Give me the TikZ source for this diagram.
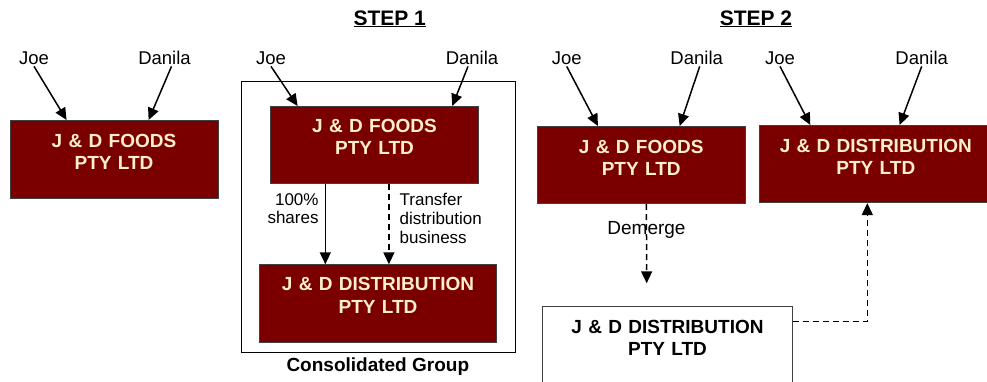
\documentclass[tikz,border=0pt]{standalone}
\usepackage{fontspec}
\setmainfont{Liberation Sans}
\usetikzlibrary{arrows.meta}
\definecolor{maroon}{RGB}{122,0,0}
\definecolor{cream}{RGB}{255,240,200}

\begin{document}
\begin{tikzpicture}[x=1pt, y=-1pt,
                corp/.style={draw=black!75, line width=0.8pt, fill=maroon, text=cream, align=center, inner sep=0pt,
                        font=\bfseries\fontsize{19}{22.5}\selectfont, text height=27pt, anchor=north},
                newco/.style={corp, fill=white, text=black},
                own/.style={font=\fontsize{18.5}{22}\selectfont, anchor=base, inner sep=2pt},
                note/.style={font=\fontsize{17}{18.8}\selectfont, inner sep=0pt},
                title/.style={font=\bfseries\fontsize{21}{25}\selectfont, anchor=base},
                link/.style={line width=1.5pt, ->, >={Triangle[length=12pt,width=11pt]}},
                plan/.style={link, dash pattern=on 6pt off 4pt}]
        \useasboundingbox (0,0) rectangle (987,381);
        \clip (0,0) rectangle (987,381);
        \node[title] (s1) at (389.7,25) {\underline{STEP 1}};
        \node[title] (s2) at (756,25) {\underline{STEP 2}};
        % before
        \node[corp, text width=208pt, text depth=51pt] (f0) at (114,120) {J \& D FOODS\\PTY LTD};
        \node[own] (j0) at (34,64) {Joe};
        \node[own] (d0) at (164.5,64) {Danila};
        \draw[link] (j0.south) -- ([xshift=57pt]f0.north west);
        \draw[link] ([xshift=7pt]d0.south) -- ([xshift=139pt]f0.north west);
        % step 1
        \node[draw, line width=0.8pt, minimum width=273.3pt, minimum height=271pt, inner sep=0pt] (grp) at (378.3,217.2) {};
        \node[corp, text width=207.6pt, text height=26pt, text depth=50.7pt] (f1) at (374.5,106) {J \& D FOODS\\PTY LTD};
        \node[corp, text width=237.4pt, text height=26pt, text depth=52pt] (t1) at (378,264.3) {J \& D DISTRIBUTION\\PTY LTD};
        \node[own] (j1) at (271,64) {Joe};
        \node[own] (d1) at (472,64) {Danila};
        \draw[link] (j1.south) -- ([xshift=27.3pt]f1.north west);
        \draw[link] ([xshift=-4pt]d1.south) -- ([xshift=182pt]f1.north west);
        \draw[link] ([xshift=55pt]f1.south west) -- node[note, anchor=north east, pos=0.11, xshift=-6pt, align=right] {100\%\\shares} ([xshift=66.4pt]t1.north west);
        \draw[plan] ([xshift=118.6pt]f1.south west) -- node[note, anchor=north west, pos=0.11, xshift=10pt, align=left] {Transfer\\distribution\\business} ([xshift=130pt]t1.north west);
        \node[note, anchor=base, font=\bfseries\fontsize{19}{22}\selectfont] (cg) at (377.8,371.7) {Consolidated Group};
        % step 2
        \node[corp, text width=207.7pt, text depth=50.3pt] (f2) at (641.2,126) {J \& D FOODS\\PTY LTD};
        \node[corp, text width=233pt, text depth=50.3pt] (t2) at (875.8,125) {J \& D DISTRIBUTION\\PTY LTD};
        \node[newco, text width=249.6pt, text depth=100pt] (n2) at (667.5,306) {J \& D DISTRIBUTION\\PTY LTD};
        \node[own] (j2) at (566.7,64) {Joe};
        \node[own] (d2) at (696.7,64) {Danila};
        \node[own] (j3) at (780,64) {Joe};
        \node[own] (d3) at (921.7,64) {Danila};
        \draw[link] (j2.south) -- ([xshift=61pt]f2.north west);
        \draw[link] ([xshift=3pt]d2.south) -- ([xshift=142.7pt]f2.north west);
        \draw[link] (j3.south) -- ([xshift=51.4pt]t2.north west);
        \draw[link] (d3.south) -- ([xshift=140.7pt]t2.north west);
        \coordinate (dm) at (646.7,283.3);
        \draw[plan] ([xshift=109.4pt]f2.south west) -- node[note, font=\fontsize{19}{22}\selectfont, pos=0.32] {Demerge} (dm);
        \draw[plan] ([yshift=-15.7pt]n2.north east) -| ([xshift=108.4pt]t2.south west);
\end{tikzpicture}
\end{document}
